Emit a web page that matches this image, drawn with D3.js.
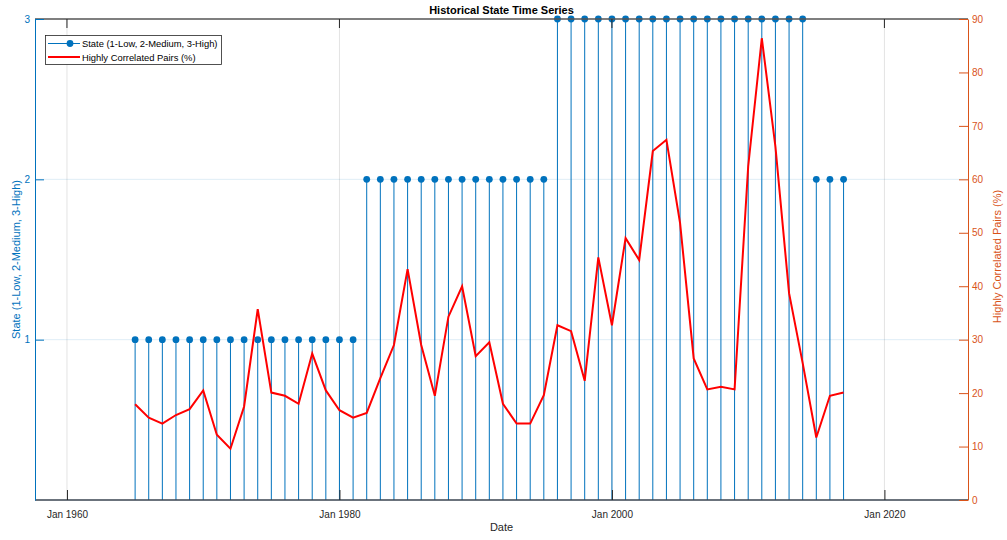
<!DOCTYPE html>
<html><head><meta charset="utf-8">
<script src="https://cdn.jsdelivr.net/npm/d3@7"></script>
<style>body{margin:0;background:#fff;font-family:"Liberation Sans",Arial,sans-serif}</style>
</head><body>
<svg id="c" width="1007" height="540"></svg>
<script>
const years = [1965,1966,1967,1968,1969,1970,1971,1972,1973,1974,1975,1976,1977,1978,1979,1980,1981,
  1982,1983,1984,1985,1986,1987,1988,1989,1990,1991,1992,1993,1994,1995,
  1996,1997,1998,1999,2000,2001,2002,2003,2004,2005,2006,2007,2008,2009,2010,2011,2012,2013,2014,
  2015,2016,2017];
const states = [1,1,1,1,1,1,1,1,1,1,1,1,1,1,1,1,1,
  2,2,2,2,2,2,2,2,2,2,2,2,2,2,
  3,3,3,3,3,3,3,3,3,3,3,3,3,3,3,3,3,3,3,
  2,2,2];
const pct = [17.9,15.4,14.3,15.9,17.0,20.5,12.2,9.6,17.5,35.7,20.1,19.5,18.0,27.4,20.5,16.8,15.4,
  16.3,22.8,29.0,43.2,29.0,19.5,34.3,40.0,26.9,29.5,18.0,14.3,14.3,19.6,
  32.7,31.6,22.3,45.4,32.7,49.0,44.9,65.3,67.4,51.8,26.5,20.7,21.2,20.7,62.4,86.4,66.1,38.7,25.6,
  11.7,19.5,20.1];
const xTickYears = [1960,1980,2000,2020];
const xTickLabels = ["Jan 1960","Jan 1980","Jan 2000","Jan 2020"];
const leftTicks = [1,2,3];
const rightTicks = [0,10,20,30,40,50,60,70,80,90];
const titleText = "Historical State Time Series";
const legendLabels = ["State (1-Low, 2-Medium, 3-High)","Highly Correlated Pairs (%)"];

const L=35, R=968, T=19, B=500;
const blue="#0072BD", orange="#D95319";
const svg=d3.select("#c");
const x=d3.scaleTime().domain([new Date(1957,7,27),new Date(2026,1,19)]).range([L,R]);
const yL=d3.scaleLinear().domain([0,3]).range([B,T]);
const yR=d3.scaleLinear().domain([0,90]).range([B,T]);
const dt=y=>new Date(y,0,1);

// grid
const g=svg.append("g");
g.selectAll(".vg").data(xTickYears).join("line")
  .attr("x1",d=>x(dt(d))).attr("x2",d=>x(dt(d))).attr("y1",T).attr("y2",B)
  .attr("stroke","#e3e3e3").attr("stroke-width",1);
g.selectAll(".hg").data([1,2]).join("line")
  .attr("x1",L).attr("x2",R).attr("y1",d=>yL(d)).attr("y2",d=>yL(d))
  .attr("stroke","rgba(0,114,189,0.13)").attr("stroke-width",1);

// stems
const data=years.map((y,i)=>({d:dt(y),s:states[i],p:pct[i]}));
svg.append("g").selectAll("line").data(data).join("line")
  .attr("x1",d=>x(d.d)).attr("x2",d=>x(d.d)).attr("y1",yL(0)).attr("y2",d=>yL(d.s))
  .attr("stroke",blue).attr("stroke-width",1);
svg.append("g").selectAll("circle").data(data).join("circle")
  .attr("cx",d=>x(d.d)).attr("cy",d=>yL(d.s)).attr("r",3.4).attr("fill",blue);

// red line
svg.append("path").datum(data)
  .attr("d",d3.line().x(d=>x(d.d)).y(d=>yR(d.p)))
  .attr("fill","none").attr("stroke","#FF0000").attr("stroke-width",2).attr("stroke-linejoin","miter");

// box top/bottom
svg.append("line").attr("x1",L).attr("x2",R).attr("y1",T).attr("y2",T).attr("stroke","#555").attr("stroke-width",1.3);
svg.append("line").attr("x1",L).attr("x2",R).attr("y1",B).attr("y2",B).attr("stroke","#3a4450").attr("stroke-width",1.3);

// x axis
const xa=svg.append("g").attr("transform",`translate(0,${B})`)
  .call(d3.axisBottom(x).tickValues(xTickYears.map(dt)).tickFormat((d,i)=>xTickLabels[i]).tickSizeInner(-10).tickSizeOuter(0).tickPadding(11));
xa.select(".domain").remove();
xa.selectAll("line").attr("stroke","#262626");
xa.selectAll("text").attr("fill","#262626").style("font-size","10px").style("font-family","Liberation Sans, Arial");
const xt=svg.append("g");
xt.selectAll("line").data(xTickYears).join("line")
  .attr("x1",d=>x(dt(d))).attr("x2",d=>x(dt(d))).attr("y1",T).attr("y2",T+9).attr("stroke","#262626");

// left axis
const la=svg.append("g").attr("transform",`translate(${L},0)`)
  .call(d3.axisLeft(yL).tickValues(leftTicks).tickFormat(d3.format("d")).tickSizeInner(-9).tickSizeOuter(0).tickPadding(5));
la.select(".domain").attr("stroke",blue);
la.selectAll("line").attr("stroke",blue);
la.selectAll("text").attr("fill",blue).style("font-size","10px").style("font-family","Liberation Sans, Arial");

// right axis
const ra=svg.append("g").attr("transform",`translate(${R},0)`)
  .call(d3.axisRight(yR).tickValues(rightTicks).tickFormat(d3.format("d")).tickSizeInner(-9).tickSizeOuter(0).tickPadding(4));
ra.select(".domain").attr("stroke",orange);
ra.selectAll("line").attr("stroke",orange);
ra.selectAll("text").attr("fill",orange).style("font-size","10px").style("font-family","Liberation Sans, Arial");

// labels
svg.append("text").attr("x",(L+R)/2).attr("y",14).attr("text-anchor","middle")
  .style("font-weight","bold").style("font-size","11px").attr("fill","#000").text(titleText);
svg.append("text").attr("x",(L+R)/2).attr("y",531).attr("text-anchor","middle")
  .style("font-size","11px").attr("fill","#262626").text("Date");
svg.append("text").attr("transform",`translate(20,${(T+B)/2}) rotate(-90)`).attr("text-anchor","middle")
  .style("font-size","11px").attr("fill",blue).text("State (1-Low, 2-Medium, 3-High)");
svg.append("text").attr("transform",`translate(1001,${(T+B)/2 - 3}) rotate(-90)`).attr("text-anchor","middle")
  .style("font-size","11px").attr("fill",orange).text("Highly Correlated Pairs (%)");

// legend
const lg=svg.append("g");
lg.append("rect").attr("x",45.5).attr("y",35.5).attr("width",176).attr("height",29).attr("fill","#fff").attr("stroke","#262626").attr("stroke-width",0.8);
lg.append("line").attr("x1",48).attr("x2",80).attr("y1",43.5).attr("y2",43.5).attr("stroke",blue);
lg.append("circle").attr("cx",70).attr("cy",43.5).attr("r",3.4).attr("fill",blue);
lg.append("line").attr("x1",48).attr("x2",80).attr("y1",57).attr("y2",57).attr("stroke","#FF0000").attr("stroke-width",2);
lg.selectAll("text").data(legendLabels).join("text")
  .attr("x",82).attr("y",(d,i)=>i?60.5:47).style("font-size","9.4px").attr("fill","#000").text(d=>d);
</script>
</body></html>
